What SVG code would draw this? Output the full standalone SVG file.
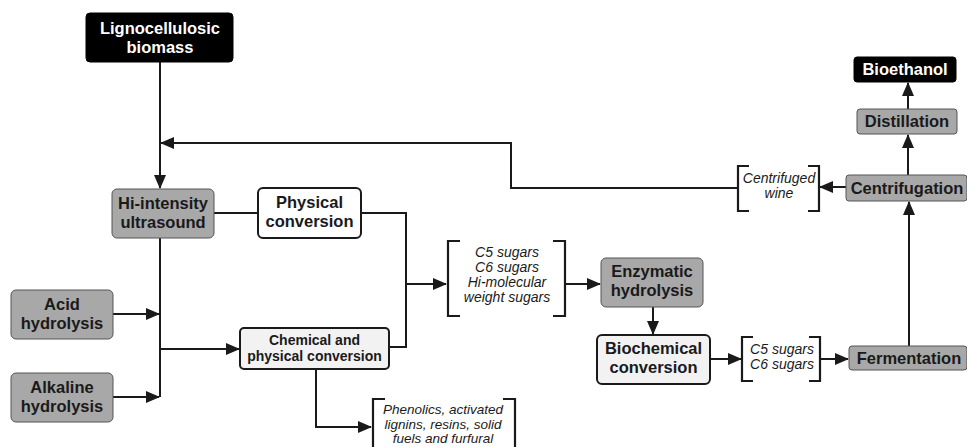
<svg xmlns="http://www.w3.org/2000/svg" width="967" height="447" viewBox="0 0 967 447">
<style>
.b{font-family:"Liberation Sans",Arial,sans-serif;font-weight:bold;font-size:16.5px;fill:#1a1a1a;text-anchor:middle}
.w{fill:#ffffff}
.s{font-size:14px}
.i{font-family:"Liberation Sans",Arial,sans-serif;font-style:italic;font-size:14px;fill:#1a1a1a;text-anchor:middle}
.blk{fill:#000000;stroke:#000000;stroke-width:1}
.gry{fill:#a8a8a8;stroke:#555555;stroke-width:1}
.lt{fill:#f2f2f2;stroke:#1a1a1a;stroke-width:2}
.wh{fill:#ffffff;stroke:#1a1a1a;stroke-width:2}
.c{fill:none;stroke:#1a1a1a;stroke-width:2}
.br{fill:none;stroke:#1a1a1a;stroke-width:2.2}
</style>
<defs>
<marker id="ah" markerUnits="userSpaceOnUse" markerWidth="14" markerHeight="12" refX="13" refY="6" orient="auto">
<path d="M0,0 L14,6 L0,12 z" fill="#1a1a1a"/>
</marker>
</defs>
<rect width="967" height="447" fill="#ffffff"/>
<g id="connectors">
<path class="c" d="M160,62 V188" marker-end="url(#ah)"/>
<path class="c" d="M738,188 H511 V143 H161" marker-end="url(#ah)"/>
<path class="c" d="M214,213 H258"/>
<path class="c" d="M361,213 H406 V347 H389"/>
<path class="c" d="M406,284 H446" marker-end="url(#ah)"/>
<path class="c" d="M160,238 V397"/>
<path class="c" d="M113,314 H159" marker-end="url(#ah)"/>
<path class="c" d="M113,397 H159" marker-end="url(#ah)"/>
<path class="c" d="M160,349 H239" marker-end="url(#ah)"/>
<path class="c" d="M316,369 V427 H371" marker-end="url(#ah)"/>
<path class="c" d="M566,284 H600" marker-end="url(#ah)"/>
<path class="c" d="M653,307 V334" marker-end="url(#ah)"/>
<path class="c" d="M710,359 H741" marker-end="url(#ah)"/>
<path class="c" d="M821,359 H848" marker-end="url(#ah)"/>
<path class="c" d="M909,346 V202" marker-end="url(#ah)"/>
<path class="c" d="M908,175 V135" marker-end="url(#ah)"/>
<path class="c" d="M908,109 V83" marker-end="url(#ah)"/>
<path class="c" d="M846,187 H820" marker-end="url(#ah)"/>
</g>
<g id="lignocellulosic-biomass">
<rect class="blk" x="86" y="13" width="147" height="49" rx="4"/>
<text class="b w" x="160" y="34">Lignocellulosic</text>
<text class="b w" x="160" y="53">biomass</text>
</g>
<g id="hi-intensity-ultrasound">
<rect class="gry" x="112" y="189" width="102" height="49" rx="5"/>
<text class="b" x="163" y="209">Hi-intensity</text>
<text class="b" x="163" y="228">ultrasound</text>
</g>
<g id="physical-conversion">
<rect class="wh" x="258" y="188" width="103" height="50" rx="5"/>
<text class="b" x="309.5" y="208">Physical</text>
<text class="b" x="309.5" y="227">conversion</text>
</g>
<g id="acid-hydrolysis">
<rect class="gry" x="11" y="290" width="102" height="49" rx="5"/>
<text class="b" x="62" y="310">Acid</text>
<text class="b" x="62" y="329">hydrolysis</text>
</g>
<g id="alkaline-hydrolysis">
<rect class="gry" x="11" y="373" width="102" height="49" rx="5"/>
<text class="b" x="62" y="393">Alkaline</text>
<text class="b" x="62" y="412">hydrolysis</text>
</g>
<g id="chemical-physical-conversion">
<rect class="lt" x="240" y="328" width="149" height="41" rx="4"/>
<text class="b s" x="314.5" y="345">Chemical and</text>
<text class="b s" x="314.5" y="361">physical conversion</text>
</g>
<g id="sugars-mix">
<path class="br" d="M460,241 H448 V316 H460"/>
<path class="br" d="M553,241 H565 V316 H553"/>
<text class="i" x="507" y="257">C5 sugars</text>
<text class="i" x="507" y="272">C6 sugars</text>
<text class="i" x="507" y="287">Hi-molecular</text>
<text class="i" x="507" y="302">weight sugars</text>
</g>
<g id="phenolics">
<path class="br" d="M385,399 H373 V447"/>
<path class="br" d="M503,399 H515 V447"/>
<text class="i" x="443" y="414" style="font-size:13.5px">Phenolics, activated</text>
<text class="i" x="443" y="428.5" style="font-size:13.5px">lignins, resins, solid</text>
<text class="i" x="443" y="443" style="font-size:13.5px">fuels and furfural</text>
</g>
<g id="enzymatic-hydrolysis">
<rect class="gry" x="601" y="258" width="102" height="49" rx="5"/>
<text class="b" x="652" y="277">Enzymatic</text>
<text class="b" x="652" y="296">hydrolysis</text>
</g>
<g id="biochemical-conversion">
<rect class="lt" x="597" y="335" width="113" height="49" rx="5"/>
<text class="b" x="653.5" y="354">Biochemical</text>
<text class="b" x="653.5" y="373">conversion</text>
</g>
<g id="c5-c6-sugars">
<path class="br" d="M753,337 H742 V381 H753"/>
<path class="br" d="M809,337 H820 V381 H809"/>
<text class="i" x="782" y="354">C5 sugars</text>
<text class="i" x="782" y="369">C6 sugars</text>
</g>
<g id="fermentation">
<rect class="gry" x="849" y="346" width="118" height="24" rx="3"/>
<text class="b" x="909" y="364">Fermentation</text>
</g>
<g id="centrifugation">
<rect class="gry" x="846" y="175" width="121" height="26" rx="3"/>
<text class="b" x="907" y="194">Centrifugation</text>
</g>
<g id="centrifuged-wine">
<path class="br" d="M749,166 H738 V211 H749"/>
<path class="br" d="M808,166 H819 V211 H808"/>
<text class="i" x="779" y="183">Centrifuged</text>
<text class="i" x="779" y="198">wine</text>
</g>
<g id="distillation">
<rect class="gry" x="857" y="109" width="100" height="25" rx="3"/>
<text class="b" x="907" y="127">Distillation</text>
</g>
<g id="bioethanol">
<rect class="blk" x="854" y="57" width="102" height="25" rx="3"/>
<text class="b w" x="905" y="75">Bioethanol</text>
</g>
</svg>
